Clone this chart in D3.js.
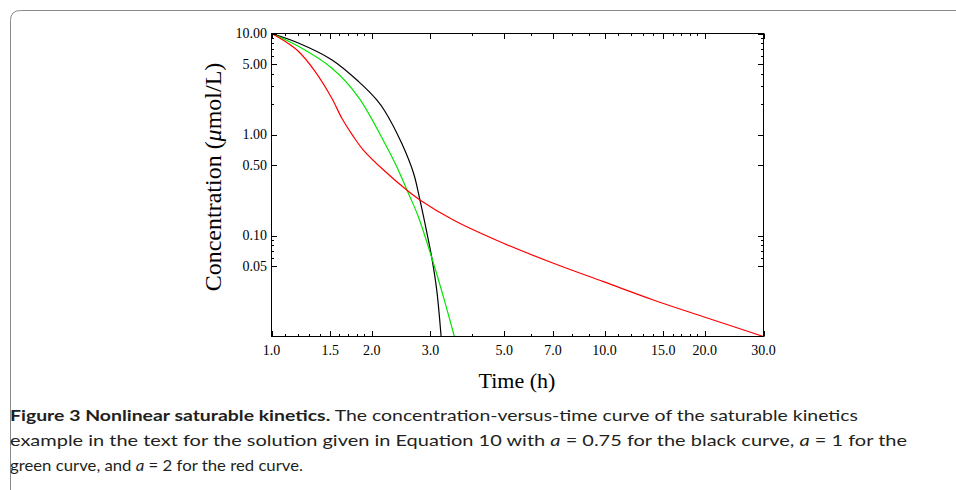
<!DOCTYPE html>
<html>
<head>
<meta charset="utf-8">
<script src="https://cdn.jsdelivr.net/npm/d3@7"></script>
<style>
  body { margin: 0; background: #fff; }
</style>
</head>
<body>
<div id="chart"></div>
<script>

// values
const blackTime = [1, 1.204, 1.516, 1.823, 2.07, 2.19, 2.46, 2.67, 2.79, 2.93, 3.03, 3.134, 3.23];
const blackConc = [10, 8.05, 5.50, 3.36, 2.20, 1.70, 0.818, 0.413, 0.225, 0.105, 0.0598, 0.0288, 0.01];

const greenTime = [1, 1.204, 1.516, 1.823, 2.17, 2.377, 2.576, 2.76, 3.03, 3.28, 3.54];
const greenConc = [10, 7.47, 4.55, 2.35, 0.863, 0.48, 0.262, 0.1535, 0.0598, 0.0248, 0.01];

const redTime = [1, 1.098, 1.204, 1.351, 1.516, 1.625, 1.760, 1.887, 2.17, 2.547, 2.79, 3.515, 4.97, 7.02, 9.92, 14.0, 19.8, 30];
const redConc = [10, 8.37, 6.67, 4.22, 2.30, 1.457, 0.960, 0.702, 0.445, 0.282, 0.225, 0.1424, 0.0838, 0.0531, 0.0349, 0.0230, 0.0157, 0.01];

const xMajor = [1, 1.5, 2, 3, 5, 7, 10, 15, 20, 30];
const xMinor = [1.1, 1.2, 1.3, 1.4, 1.6, 1.7, 1.8, 1.9, 4, 6, 8, 9, 11, 12, 13, 14, 16, 17, 18, 19];
const yMajor = [10, 5, 1, 0.5, 0.1, 0.05];
const yMinor = [9, 8, 7, 6, 4, 3, 2, 0.09, 0.08, 0.07, 0.06];

const captionLines = [
  [{ t: "Figure 3 Nonlinear saturable kinetics.", b: true }, { t: " The concentration-versus-time curve of the saturable kinetics" }],
  [{ t: "example in the text for the solution given in Equation 10 with " }, { t: "a", i: true }, { t: " = 0.75 for the black curve, " }, { t: "a", i: true }, { t: " = 1 for the" }],
  [{ t: "green curve, and " }, { t: "a", i: true }, { t: " = 2 for the red curve." }]
];
const captionWidths = [848, 897, 293];

const series = [
  { time: blackTime, conc: blackConc, color: "#000000" },
  { time: greenTime, conc: greenConc, color: "#00e600" },
  { time: redTime, conc: redConc, color: "#ff0000" }
];

const width = 956;
const height = 490;
const plotLeft = 271.5, plotRight = 763.5, plotTop = 33.5, plotBottom = 336.5;

const svg = d3.select("#chart").append("svg")
  .attr("width", width)
  .attr("height", height);

// figure frame
svg.append("path")
  .attr("d", `M10.5,${height}V20.5Q10.5,10.5 20.5,10.5H${width}`)
  .attr("fill", "none")
  .attr("stroke", "#8a8a8a")
  .attr("stroke-width", 1);

const x = d3.scaleLog().domain([1, 30]).range([plotLeft, plotRight]);
const y = d3.scaleLog().domain([0.01, 10]).range([plotBottom, plotTop]);

svg.append("defs").append("clipPath").attr("id", "plotclip")
  .append("rect")
  .attr("x", plotLeft).attr("y", plotTop)
  .attr("width", plotRight - plotLeft).attr("height", plotBottom - plotTop);

// curves
const line = d3.line()
  .x(d => x(d[0]))
  .y(d => y(d[1]))
  .curve(d3.curveCatmullRom.alpha(0.5));

svg.append("g")
  .attr("clip-path", "url(#plotclip)")
  .selectAll("path")
  .data(series)
  .join("path")
  .attr("fill", "none")
  .attr("stroke", d => d.color)
  .attr("stroke-width", 1.2)
  .attr("d", d => line(d.time.map((t, i) => [t, d.conc[i]])));

// frame + ticks (inward on all four sides)
const axes = svg.append("g").attr("stroke", "#000").attr("stroke-width", 1);

axes.append("rect")
  .attr("x", plotLeft).attr("y", plotTop)
  .attr("width", plotRight - plotLeft).attr("height", plotBottom - plotTop)
  .attr("fill", "none");

const tickLen = (major) => major ? 5.5 : 2.5;
const xt = xMajor.map(v => ({ v, major: true })).concat(xMinor.map(v => ({ v, major: false })));
const yt = yMajor.map(v => ({ v, major: true })).concat(yMinor.map(v => ({ v, major: false })));

xt.forEach(d => {
  const px = Math.round(x(d.v)) + 0.5;
  axes.append("line").attr("x1", px).attr("x2", px).attr("y1", plotBottom).attr("y2", plotBottom - tickLen(d.major));
  axes.append("line").attr("x1", px).attr("x2", px).attr("y1", plotTop).attr("y2", plotTop + tickLen(d.major));
});
yt.forEach(d => {
  const py = Math.round(y(d.v)) + 0.5;
  axes.append("line").attr("y1", py).attr("y2", py).attr("x1", plotLeft).attr("x2", plotLeft + tickLen(d.major));
  axes.append("line").attr("y1", py).attr("y2", py).attr("x1", plotRight).attr("x2", plotRight - tickLen(d.major));
});

// tick labels
const serif = "'Liberation Serif', 'DejaVu Serif', serif";

svg.append("g")
  .attr("font-family", serif)
  .attr("font-size", 14)
  .attr("text-anchor", "middle")
  .selectAll("text")
  .data(xMajor)
  .join("text")
  .attr("x", d => x(d))
  .attr("y", 355)
  .text(d => d3.format(".1f")(d));

svg.append("g")
  .attr("font-family", serif)
  .attr("font-size", 14)
  .attr("text-anchor", "end")
  .selectAll("text")
  .data(yMajor)
  .join("text")
  .attr("x", 267)
  .attr("y", d => y(d))
  .attr("dy", "0.35em")
  .text(d => d3.format(".2f")(d));

// axis titles
svg.append("text")
  .attr("font-family", serif)
  .attr("font-size", 22)
  .attr("text-anchor", "middle")
  .attr("x", 517)
  .attr("y", 388)
  .text("Time (h)");

const yTitle = svg.append("text")
  .attr("font-family", serif)
  .attr("font-size", 24)
  .attr("text-anchor", "middle")
  .attr("transform", "translate(221,177) rotate(-90)");
yTitle.append("tspan").text("Concentration (");
yTitle.append("tspan").attr("font-style", "italic").text("μ");
yTitle.append("tspan").text("mol/L)");

// caption
const caption = svg.append("g")
  .attr("font-family", "Lato, 'Open Sans', sans-serif")
  .attr("font-size", 16)
  .attr("fill", "#231f20");

captionLines.forEach((parts, i) => {
  const t = caption.append("text")
    .attr("x", 10)
    .attr("y", 421 + i * 25)
    .attr("textLength", captionWidths[i])
    .attr("lengthAdjust", "spacingAndGlyphs");
  parts.forEach(p => {
    t.append("tspan")
      .attr("font-weight", p.b ? "bold" : null)
      .attr("font-style", p.i ? "italic" : null)
      .text(p.t);
  });
});

</script>
</body>
</html>
